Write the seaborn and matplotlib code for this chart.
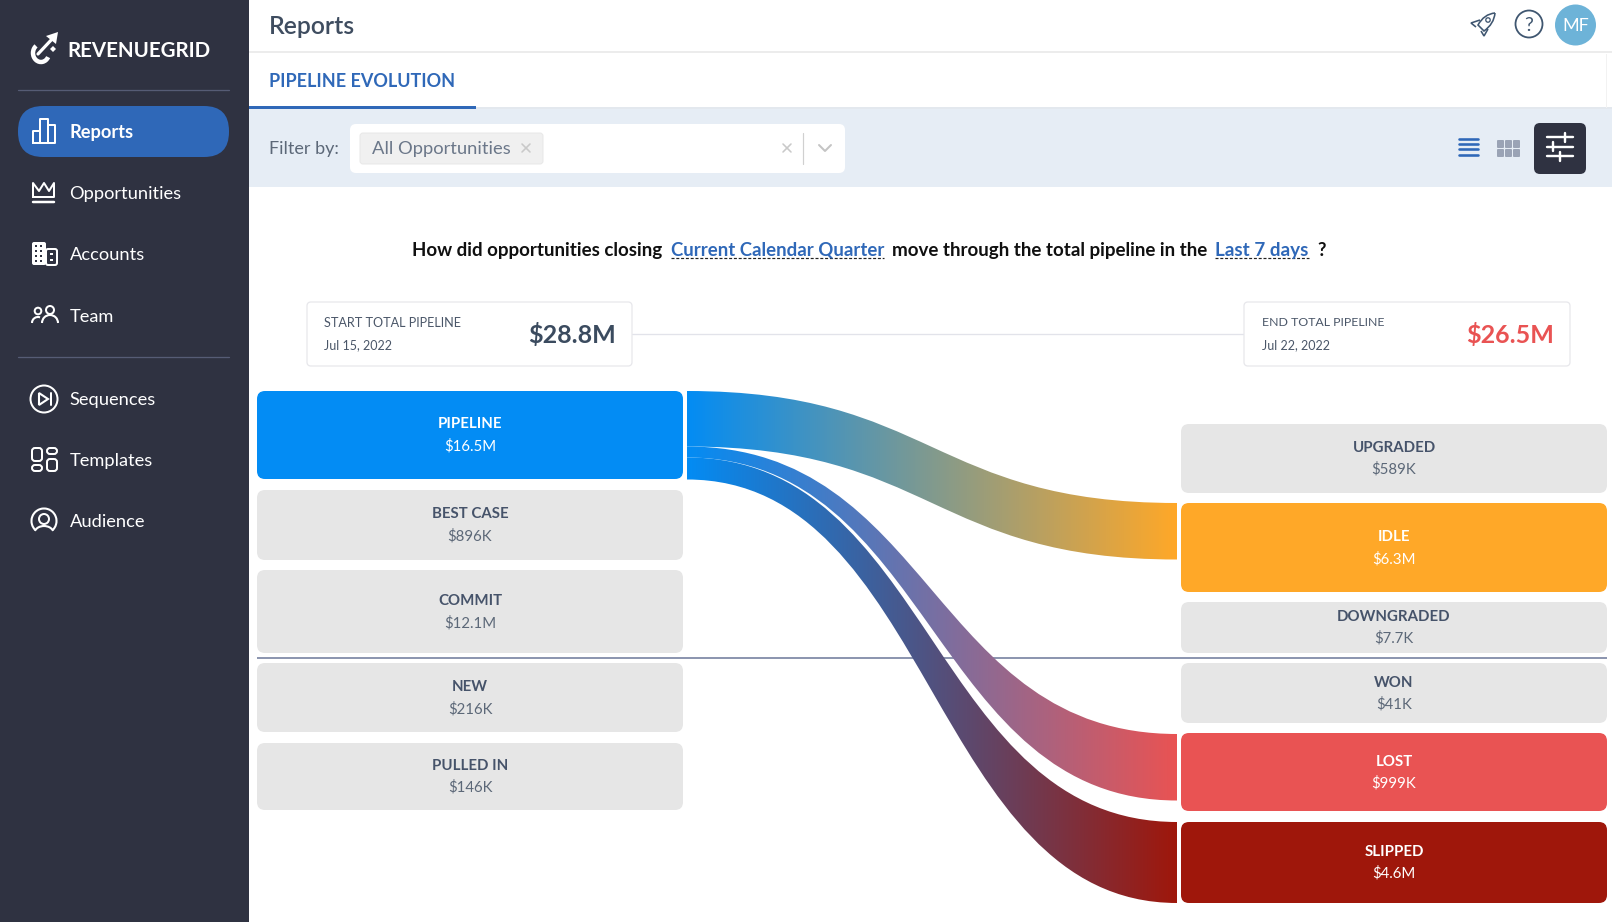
import matplotlib
matplotlib.use("Agg")
import matplotlib.pyplot as plt
import numpy as np
import seaborn as sns
from matplotlib.patches import Circle, FancyBboxPatch, PathPatch, Polygon, Arc
from matplotlib.path import Path

# data
left_labels = ["PIPELINE", "BEST CASE", "COMMIT", "NEW", "PULLED IN"]
left_values = ["$16.5M", "$896K", "$12.1M", "$216K", "$146K"]
right_labels = ["UPGRADED", "IDLE", "DOWNGRADED", "WON", "LOST", "SLIPPED"]
right_values = ["$589K", "$6.3M", "$7.7K", "$41K", "$999K", "$4.6M"]
flow_targets = ["IDLE", "LOST", "SLIPPED"]
start_total = "$28.8M"
end_total = "$26.5M"
start_date = "Jul 15, 2022"
end_date = "Jul 22, 2022"
nav_top = ["Reports", "Opportunities", "Accounts", "Team"]
nav_bottom = ["Sequences", "Templates", "Audience"]

# colours
SIDE = "#2f3241"
BLUE = "#2f68b8"
TXT = "#3f4d60"
GREY = "#e6e6e6"
node_colors = {"PIPELINE": "#038cf4", "IDLE": "#ffa828", "LOST": "#e95353", "SLIPPED": "#9f170b"}

# layout, in screenshot pixels
left_box = {"PIPELINE": (391, 479), "BEST CASE": (490, 560), "COMMIT": (570, 653),
            "NEW": (663, 732), "PULLED IN": (743, 810)}
left_text = {"PIPELINE": (423, 445), "BEST CASE": (513, 535), "COMMIT": (600, 622),
             "NEW": (686, 708), "PULLED IN": (765, 786)}
right_box = {"UPGRADED": (424, 493), "IDLE": (503, 592), "DOWNGRADED": (602, 653),
             "WON": (663, 723), "LOST": (733, 811), "SLIPPED": (822, 903)}
right_text = {"UPGRADED": (447, 468), "IDLE": (536, 558), "DOWNGRADED": (616, 637),
              "WON": (682, 703), "LOST": (761, 782), "SLIPPED": (851, 872)}
flow_ends = {"IDLE": ((391, 446.5), (503, 559.5)),
             "LOST": ((446.5, 457.5), (734, 800.5)),
             "SLIPPED": ((457.5, 479.5), (822, 903))}

sns.set_theme(style="white")
plt.rcParams["font.family"] = ["Lato", "DejaVu Sans"]

W, H = 1612, 922
fig = plt.figure(figsize=(W / 100, H / 100), dpi=100)
ax = fig.add_axes([0, 0, 1, 1])
ax.set_xlim(0, W)
ax.set_ylim(H, 0)
ax.axis("off")


def t(x, y, s, px, color=TXT, weight="normal", ha="left"):
    return ax.text(x, y - 0.4, s, fontsize=px * 0.72, color=color, fontweight=weight,
                   ha=ha, va="center_baseline", zorder=6)


def box(x0, y0, x1, y1, r=8, fc="white", ec="none", lw=0, z=2):
    p = FancyBboxPatch((x0 + r, y0 + r), x1 - x0 - 2 * r, y1 - y0 - 2 * r,
                       boxstyle=f"round,pad={r},rounding_size={r}",
                       fc=fc, ec=ec, lw=lw * 0.72, zorder=z, mutation_aspect=1)
    ax.add_patch(p)
    return p


def line(xs, ys, color="white", lw=2.0, z=5, **kw):
    ax.plot(xs, ys, color=color, lw=lw * 0.72, zorder=z, solid_capstyle=kw.pop("cap", "round"), **kw)


def rect(x0, y0, x1, y1, color, z=1):
    ax.fill([x0, x1, x1, x0], [y0, y0, y1, y1], color=color, lw=0, zorder=z)


def ring(x, y, r, color="white", lw=2.0, fc="none", z=5):
    ax.add_patch(Circle((x, y), r, fc=fc, ec=color, lw=lw * 0.72, zorder=z))


def outline(verts, codes, color, lw=1.6):
    ax.add_patch(PathPatch(Path(verts, codes), fc="none", ec=color, lw=lw * 0.72, zorder=5))


# page frame
rect(0, 0, 249, H, SIDE)
rect(249, 51, W, 53, "#ececec")
rect(249, 109, W, 187, "#e6edf5")
rect(249, 107.5, W, 109, "#e3e8ee")
rect(249, 106.5, 476, 109, BLUE, z=2)
rect(1606, 54, 1607, 108, "#f2f2f2")

# sidebar
t(67, 49.5, "REVENUEGRID", 20.5, "white", "bold")
line([18, 229], [90, 90], "#565c75", 1.3)
line([18, 229], [357, 357], "#565c75", 1.3)
box(18, 106, 229, 157, r=25, fc=BLUE)
for name, y in zip(nav_top, [131, 193, 254, 316]):
    t(69.5, y, name, 18.3, "white", "bold" if name == "Reports" else "normal")
for name, y in zip(nav_bottom, [399, 460, 521]):
    t(69.5, y, name, 18.3, "white")

# logo
ax.add_patch(Arc((41, 53), 16, 18, theta1=30, theta2=235, color="white", lw=3.2, zorder=5))
line([38, 54], [54, 37], "white", 3.2)
ax.add_patch(Polygon([[58, 32], [56, 44], [46, 36]], fc="white", ec="none", zorder=5))
ax.add_patch(Polygon([[53, 46], [56, 49], [53, 52], [50, 49]], fc="white", ec="none", zorder=5))

# nav icons
line([33, 33, 40, 40, 33], [143, 131, 131, 143, 143])
line([40, 40, 48, 48, 40], [143, 119, 119, 143, 143])
line([48, 55, 55, 48], [125, 125, 143, 143])
line([33, 33, 39, 44, 49, 54, 54, 33], [197, 183, 191, 183, 191, 183, 197, 197])
line([33, 54], [202, 202], lw=2.5)
box(32, 242, 46, 265, r=2, fc="white", z=5)
box(46, 249, 57, 265, r=2, fc=SIDE, ec="white", lw=2, z=5)
for yy in [246, 251, 256, 261]:
    for xx in [36, 41]:
        rect(xx - 1, yy - 1, xx + 1, yy + 1, SIDE, z=6)
for yy in [254, 260]:
    rect(50, yy - 1, 53, yy + 1, "white", z=6)
ring(38, 311, 3.3)
ring(50, 310, 4)
ax.add_patch(Arc((38, 323), 12, 12, theta1=180, theta2=290, color="white", lw=1.5, zorder=5))
ax.add_patch(Arc((50, 323), 16, 16, theta1=180, theta2=360, color="white", lw=1.5, zorder=5))
ring(44, 399, 13.5)
ax.add_patch(Polygon([[39, 393], [39, 405], [48, 399]], fc="none", ec="white", lw=1.5, zorder=5))
line([50.5, 50.5], [393, 405])
box(32, 448, 42, 461, r=3, fc="none", ec="white", lw=2, z=5)
box(47, 448, 57, 454, r=3, fc="none", ec="white", lw=2, z=5)
box(32, 465, 42, 471, r=3, fc="none", ec="white", lw=2, z=5)
box(47, 459, 57, 471, r=3, fc="none", ec="white", lw=2, z=5)
ax.add_patch(Arc((44, 521), 25, 25, theta1=130, theta2=50, color="white", lw=1.5, zorder=5))
ring(44, 519, 5)
ax.add_patch(Arc((44, 534), 20, 16, theta1=200, theta2=340, color="white", lw=1.5, zorder=5))

# header
ICON = "#3f5670"
t(269, 24.5, "Reports", 24.7, TXT, "semibold")
t(269, 80, "PIPELINE EVOLUTION", 18, BLUE, "bold")
outline([(1495, 13), (1494, 24), (1484, 31), (1478, 25), (1484, 14), (1495, 13)],
        [Path.MOVETO, Path.CURVE3, Path.CURVE3, Path.LINETO, Path.CURVE3, Path.CURVE3], ICON)
outline([(1480, 20), (1471, 23), (1476, 27)], [Path.MOVETO, Path.LINETO, Path.LINETO], ICON)
outline([(1488, 29), (1484, 36), (1481, 31)], [Path.MOVETO, Path.LINETO, Path.LINETO], ICON)
ring(1488, 20, 2.2, ICON, 1.3)
ring(1529, 24, 13.5, ICON, 1.8)
t(1529, 24.5, "?", 20, ICON, ha="center")
ring(1575.5, 25, 20.5, "#6db3d8", 0, fc="#6db3d8")
t(1575.5, 25, "MF", 18, "white", ha="center")

# filter bar
t(269, 148, "Filter by:", 18, "#5c6878")
box(350, 124, 845, 173, r=6, fc="white")
box(360, 133, 543, 164, r=3, fc="#f0f0f0", ec="#e8e8e8", lw=1, z=3)
t(372, 148, "All Opportunities", 18.4, "#6b7789")
for cx in [526, 787]:
    line([cx - 4, cx + 4], [144, 152], "#c9c9c9", 1.6)
    line([cx - 4, cx + 4], [152, 144], "#c9c9c9", 1.6)
line([803, 803], [133, 164], "#d0d0d0", 1.2)
line([819, 825, 831], [145, 151, 145], "#c4c4c4", 2)
for yy in [139, 144, 149.5, 155]:
    line([1459, 1478], [yy, yy], BLUE, 2.6)
for xx in [1497, 1505, 1513]:
    for yy in [140, 149]:
        box(xx, yy, xx + 7, yy + 8, r=1, fc="#9aa3b5", z=3)
box(1534, 123, 1586, 174, r=6, fc=SIDE)
for yy, tick in [(137.5, 1565), (147, 1553), (156.5, 1560)]:
    line([1547, 1573], [yy, yy], "white", 2.4)
    line([tick, tick], [yy - 4.5, yy + 4.5], "white", 2.4)

# question sentence
t(412, 249, "How did opportunities closing", 18.8, "#101010", "bold")
t(671, 249, "Current Calendar Quarter", 18.7, BLUE, "bold")
t(892, 249, "move through the total pipeline in the", 18.8, "#101010", "bold")
t(1215, 249, "Last 7 days", 18.9, BLUE, "bold")
t(1317, 249, "?", 18.7, "#101010", "bold")
line([671, 884], [258, 258], "#222222", 1.2, ls=(0, (2.5, 1.5)), cap="butt")
line([1215, 1309], [258, 258], "#222222", 1.2, ls=(0, (2.5, 1.5)), cap="butt")

# total cards
line([632, 1244], [334, 334], "#e2e3ea", 1.3, z=1)
box(307, 302, 632, 366, r=4, fc="white", ec="#e8e8ec", lw=1.3)
box(1244, 302, 1570, 366, r=4, fc="white", ec="#e8e8ec", lw=1.3)
t(324, 322, "START TOTAL PIPELINE", 12.6, "#4a5668")
t(324, 345, start_date, 12.5, "#4a5668")
t(616, 333, start_total, 25, "#3b4b5f", "bold", ha="right")
t(1262, 322, "END TOTAL PIPELINE", 12.4, "#4a5668")
t(1262, 345, end_date, 12.5, "#4a5668")
t(1554, 333, end_total, 25, node_colors["LOST"], "bold", ha="right")

# divider between open and closed stages
line([257, 1607], [658, 658], "#8d96b0", 2, z=1, cap="butt")


# sankey links, gradient is blended by seaborn then clipped to the link shape
def link(target):
    (y0a, y0b), (y1a, y1b) = flow_ends[target]
    x0, x1 = 687, 1177
    xm = (x0 + x1) / 2
    verts = [(x0, y0a), (xm, y0a), (xm, y1a), (x1, y1a), (x1, y1b), (xm, y1b), (xm, y0b), (x0, y0b), (x0, y0a)]
    codes = [Path.MOVETO, Path.CURVE4, Path.CURVE4, Path.CURVE4, Path.LINETO,
             Path.CURVE4, Path.CURVE4, Path.CURVE4, Path.CLOSEPOLY]
    patch = PathPatch(Path(verts, codes), fc="none", ec="none", zorder=3)
    ax.add_patch(patch)
    grad = np.array(sns.blend_palette([node_colors["PIPELINE"], node_colors[target]], n_colors=256))[None, :, :]
    im = ax.imshow(grad, extent=[x0, x1, 910, 385], aspect="auto", zorder=3, interpolation="bilinear")
    im.set_clip_path(patch)


for name in flow_targets:
    link(name)
ax.set_xlim(0, W)
ax.set_ylim(H, 0)

# nodes
for labels, values, boxes, texts, x0, x1 in [
    (left_labels, left_values, left_box, left_text, 257, 683),
    (right_labels, right_values, right_box, right_text, 1181, 1607),
]:
    for lab, val in zip(labels, values):
        y0, y1 = boxes[lab]
        hot = lab in node_colors
        box(x0, y0, x1, y1, r=8, fc=node_colors.get(lab, GREY), z=4)
        ya, yb = texts[lab]
        cx = (x0 + x1) / 2
        t(cx, ya, lab, 15, "white" if hot else "#46536a", "bold", ha="center")
        t(cx, yb, val, 15, "white" if hot else "#5c6878", ha="center")

fig.savefig("out.png", dpi=100)
